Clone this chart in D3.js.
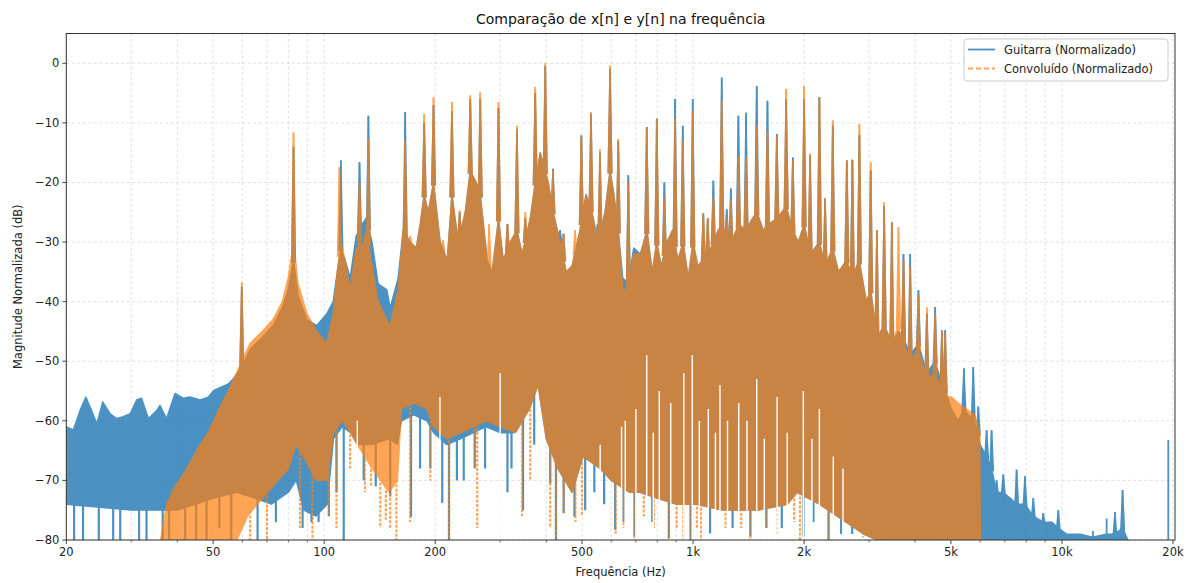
<!DOCTYPE html>
<html>
<head>
<meta charset="utf-8">
<script src="https://cdn.jsdelivr.net/npm/d3@7/dist/d3.min.js"></script>
<style>
  body { margin: 0; background: #fff; }
  svg { font-family: "DejaVu Sans", sans-serif; }
</style>
</head>
<body>
<svg id="chart" width="1189" height="583"></svg>
<script>
// --- data: [frequency Hz, dB] ---

// Guitarra: top and bottom of the dense band
const guitarUpper = [
  [20,-61],[20.9,-61.5],[21.8,-58.2],[22.6,-56],[23.4,-58.2],[24.2,-60.5],[25.1,-56.8],[26.3,-58.8],
  [27.4,-59.6],[28.5,-59.3],[29.8,-58.8],[31,-56.5],[32,-56.2],[33.4,-59.6],[35.2,-58.2],[35.9,-57.4],
  [37.4,-59.6],[39.4,-55.4],[41.5,-56.2],[43.3,-56],[46.1,-56.5],[48.5,-56],[50.2,-54.9],[52.8,-54.3],
  [55,-53.8],[56.8,-52.9],[59.8,-51],[63,-48],[67.9,-46],[72.7,-44],[77,-41],[79.9,-38],[82.6,-33],
  [85,-39],[89.8,-43],[95.5,-44],[101.7,-42],[105.8,-40],[108.5,-35],[111,-31],[114,-33],[117.6,-36],
  [122.1,-29],[126.8,-27],[130,-26],[134.9,-30],[140.1,-37],[147.9,-38],[151,-41],[158.7,-36],
  [163.7,-28],[171.1,-30],[177.6,-31],[182.1,-27],[186.7,-22],[191.4,-25],[197.9,-20],[206.3,-30],
  [215.6,-33],[222,-22],[230.9,-30],[241.2,-25],[248.9,-18],[258.3,-20],[264.9,-22],[276.7,-33],
  [285.4,-35],[296.9,-26],[305.8,-33],[319.5,-30],[333.1,-28],[344.2,-32],[362,-26],[373.4,-20],
  [385.3,-15],[405,-20],[417.5,-25],[436.5,-30],[453.2,-35],[469.8,-34],[493.8,-28],[512.6,-22],
  [532.2,-25],[552.5,-30],[577.2,-25],[595.6,-18],[610,-22],[627,-28],[645,-36],[667,-37],[690,-31],
  [720,-32],[750,-28],[775,-35],[797,-30],[820,-34],[850,-30],[880,-28],[910,-33],[940,-30],[970,-36],
  [1000,-30],[1030,-34],[1066,-33],[1100,-32],[1135,-30],[1170,-28],[1200,-27],[1250,-30],[1290,-29],
  [1330,-27],[1390,-28],[1450,-26],[1490,-25],[1550,-28],[1600,-27],[1690,-26],[1790,-24],[1860,-28],
  [1930,-30],[2000,-27],[2080,-32],[2200,-30],[2280,-34],[2390,-31],[2480,-35],[2610,-33],[2700,-36],
  [2820,-33],[2950,-40],[3030,-38],[3150,-46],[3300,-44],[3460,-47],[3600,-45],[3720,-46],[3880,-49],
  [4080,-47],[4300,-52],[4530,-50],[4730,-54],[4830,-55],[5020,-58],[5230,-60],[5420,-58],[5750,-60],
  [5930,-62],[6000,-64],[6250,-66],[6450,-68],[6650,-72],[6930,-72],[7250,-73],[7540,-74],[7940,-74],
  [8360,-76],[8900,-77],[9400,-77],[9770,-78],[10300,-79],[11200,-79],[12100,-79.5],[13200,-79],
  [13900,-79],[14600,-78],[15100,-80]
];
const guitarLower = [
  [20,-74],[30,-75],[40,-75],[50,-73],[58,-72],[65,-73],[72,-74],[80,-72],[84,-70],[88,-75],[95,-76],
  [102,-74],[106,-63],[112,-61],[118,-62],[123,-64],[135,-64],[150,-63],[158,-64],[162,-60],[175,-59],
  [190,-60],[198,-62],[215,-64],[235,-63],[254,-62],[275,-61],[300,-62],[330,-62],[360,-58],[380,-54],
  [400,-63],[430,-68],[470,-72],[503,-66],[560,-68],[600,-70],[672,-72],[718,-72],[800,-73],[900,-74],
  [1025,-74],[1200,-75],[1500,-75],[1800,-74],[1915,-72],[2200,-74],[2600,-77],[2900,-79],[3150,-80],
  [15100,-80]
];
const guitarPeaks = [
  [59.8,-37.5],[82.6,-14],[111,-16.3],[124.7,-16.6],[131.8,-8.8],[165.8,-8.2],[186.7,-10],[197.9,-7],
  [222,-8],[233,-25],[248.9,-6],[264.9,-6],[296.9,-7.5],[314,-27],[333.1,-11],[351,-26],[373.4,-5],
  [397.5,-0.5],[417.1,-17.7],[436,-28],[445.6,-28.6],[498,-12.1],[528.9,-8.5],[551,-27],[559.4,-15],
  [595.6,-1],[627,-13],[667.6,-18.8],[749,-10.7],[797.5,-9.3],[836,-20],[893.9,-6],[937.7,-10.5],
  [998,-6],[1066,-25.2],[1096,-26],[1135,-19.7],[1196,-2.4],[1234,-24.5],[1266,-21],[1327,-8.8],
  [1392,-8.3],[1488,-3.8],[1591,-6.3],[1687,-11.9],[1788,-6],[1864,-15.8],[2000,-6],[2076,-15.5],
  [2200,-5.7],[2280,-22.7],[2392,-10.5],[2611,-16.3],[2703,-16.2],[2824,-12],[3031,-18],[3150,-28],
  [3296,-24],[3458,-26.7],[3719,-32],[3877,-32],[4083,-38.1],[4303,-42],[4532,-40.9],[4726,-44.8],
  [4824,-44.8],[5422,-51.2],[5747,-51],[5930,-57.6],[6248,-61.6],[6445,-61.6],[6649,-70],[6932,-69],
  [7536,-68.2],[7939,-69.3],[8360,-73],[8898,-75.5],[9772,-75],[12134,-78.5],[13215,-76.4],
  [13921,-75.3],[14601,-71.6],[19420,-63.2]
];
const guitarDips = [
  [21,-80],[22.2,-80],[24.5,-80],[26.8,-80],[28,-80],[31.5,-80],[33,-80],[36.5,-80],[38,-80],[42,-80],
  [45,-80],[48,-80],[52,-78],[56,-80],[66,-80],[74,-77],[87.4,-78],[92.4,-77],[96.6,-77],[103,-76],
  [108,-72],[113,-80],[128,-70],[138,-71],[151,-72.7],[172,-76.1],[182,-68],[194,-68],[209,-73.8],
  [218,-80],[229,-70],[239,-70],[256,-68],[273,-68],[314,-72],[322,-68],[346,-75],[371,-64],[410,-70.5],
  [425,-80],[446,-75.5],[477,-76.1],[510,-75],[540,-72],[574,-74],[615,-78.3],[648,-77],[694,-79.4],
  [775,-77],[860,-79.7],[985,-80],[1112,-78.9],[1280,-78],[1430,-79.4],[1580,-78],[1740,-78],
  [1990,-79.4],[2120,-77],[2330,-80],[2520,-79],[2700,-79]
];

// Convoluído: top and bottom of the dense band
const convUpper = [
  [36,-80],[37.4,-74],[39.4,-71],[41.5,-69],[43.3,-67],[46.1,-64],[48.5,-62],[50.2,-60],[52.8,-57],
  [55,-55],[56.8,-53],[59.8,-50],[63,-47],[67.9,-45],[72.7,-43],[77,-40],[79.9,-36],[82.6,-30],[85,-37],
  [89.8,-42],[95.5,-45],[101.7,-47],[105.8,-42],[108.5,-35],[111,-30],[114,-33],[117.6,-38],[122.1,-31],
  [126.8,-31],[130,-28],[134.9,-34],[140.1,-40],[147.9,-43],[151,-44],[158.7,-38],[163.7,-28],
  [171.1,-30],[177.6,-31],[182.1,-27],[186.7,-22],[191.4,-25],[197.9,-20],[206.3,-30],[215.6,-33],
  [222,-22],[230.9,-30],[241.2,-25],[248.9,-18],[258.3,-20],[264.9,-22],[276.7,-33],[285.4,-35],
  [296.9,-26],[305.8,-33],[319.5,-30],[333.1,-28],[344.2,-32],[362,-26],[373.4,-20],[385.3,-15],
  [405,-20],[417.5,-25],[436.5,-30],[453.2,-35],[469.8,-34],[493.8,-28],[512.6,-22],[532.2,-25],
  [552.5,-30],[577.2,-25],[595.6,-18],[610,-22],[627,-28],[645,-38],[667,-38],[690,-32],[720,-32],
  [750,-28],[775,-35],[797,-30],[820,-34],[850,-30],[880,-28],[910,-33],[940,-30],[970,-36],[1000,-30],
  [1030,-34],[1066,-33],[1100,-32],[1135,-30],[1170,-28],[1200,-27],[1250,-30],[1290,-29],[1330,-27],
  [1390,-28],[1450,-26],[1490,-25],[1550,-28],[1600,-27],[1690,-26],[1790,-24],[1860,-28],[1930,-30],
  [2000,-27],[2080,-32],[2200,-30],[2280,-34],[2390,-31],[2480,-35],[2610,-33],[2700,-36],[2820,-33],
  [2950,-40],[3030,-38],[3150,-46],[3300,-44],[3460,-47],[3600,-44],[3720,-47],[3880,-50],[4080,-48],
  [4300,-53],[4530,-52],[4730,-55],[4830,-56],[5020,-56],[5230,-57],[5500,-58],[5800,-59],[5990,-62],
  [6010,-80]
];
const convLower = [
  [36,-80],[58,-80],[62,-76],[68,-73],[75,-70],[80,-68],[84,-64],[88,-66],[95,-70],[102,-70],[106,-62],
  [112,-60],[118,-62],[123,-64],[135,-68],[150,-72],[158,-70],[162,-58],[175,-57],[190,-58],[198,-61],
  [215,-63],[235,-62],[254,-61],[275,-60],[300,-61],[330,-62],[360,-58],[380,-54],[400,-63],[430,-68],
  [470,-72],[503,-66],[560,-68],[600,-70],[672,-72],[718,-72],[800,-73],[900,-74],[1025,-74],[1200,-75],
  [1500,-75],[1800,-74],[1915,-72],[2200,-74],[2600,-77],[2900,-79],[3150,-80],[6010,-80]
];
const convPeaks = [
  [59.8,-36.8],[82.6,-11.6],[110,-17.4],[124.7,-20],[131.8,-12.7],[165.8,-13],[171,-29],[186.7,-8.5],
  [197.9,-5.7],[210,-29.7],[222,-6.5],[233,-24.7],[248.9,-5.4],[264.9,-4.9],[280,-27],[296.9,-6.5],
  [314,-27],[333.1,-10.5],[351,-25],[373.4,-4],[397.5,0],[417.1,-18],[436,-29.7],[445.6,-28.6],
  [479,-28],[498,-12.4],[528.9,-8.2],[551,-28],[559.4,-14.4],[595.6,-0.4],[627,-12.7],[667.6,-20],
  [749,-11],[797.5,-9.5],[836,-22.7],[893.9,-9.3],[937.7,-13],[998,-8],[1066,-25.2],[1096,-26],
  [1135,-22.5],[1196,-6.3],[1234,-26],[1266,-23],[1327,-15.8],[1392,-15.8],[1488,-10.5],[1591,-11.5],
  [1687,-12.2],[1788,-4.3],[1864,-16.3],[2000,-3.8],[2076,-15.2],[2200,-5.7],[2280,-22.7],[2392,-9.6],
  [2611,-16.3],[2703,-16.2],[2824,-10.2],[3031,-16.6],[3150,-28],[3296,-23.3],[3458,-26.7],
  [3604,-27.5],[3719,-33],[3877,-34],[4083,-39],[4303,-41],[4532,-42],[4726,-45],[4824,-45.5],
  [5022,-57.7]
];
const convDips = [
  [63,-80],[70,-80],[86,-78],[93,-80],[103,-76],[108,-78],[117.6,-68],[129,-72],[134,-71],[142,-78],
  [147,-76.6],[151,-78],[157,-80],[171,-77],[194,-70],[218,-80],[256,-68],[260,-78],[344,-76],
  [362,-70],[410,-78],[425,-80],[446,-75.5],[480,-77],[500,-76],[617,-78.9],[648,-78],[694,-80],
  [735,-76],[783,-78],[860,-80],[903,-78],[941,-80],[985,-80],[1024,-78],[1050,-80],[1225,-78],
  [1350,-78],[1430,-80],[1580,-78],[1690,-79],[1880,-77],[1950,-80],[2330,-80],[2890,-79.6]
];

// frequencies where both spectra drop out: [frequency Hz, top of the gap dB]
const bandGaps = [
  [123,-60],[206,-56],[300,-52],[330,-62],[560,-64],[640,-61],[655,-60],[700,-58],[749,-49],[780,-62],
  [810,-55],[870,-57],[944,-52],[995,-49],[1040,-60],[1100,-58],[1150,-62],[1183,-54],[1240,-60],
  [1330,-57],[1400,-60],[1488,-53],[1560,-63],[1690,-56],[1800,-62],[1990,-55],[2100,-63],[2200,-58],
  [2400,-66],[2550,-68]
];

// axis ticks
const xTickValues = [20, 50, 100, 200, 500, 1000, 2000, 5000, 10000, 20000];
const xTickLabels = ['20', '50', '100', '200', '500', '1k', '2k', '5k', '10k', '20k'];
const yTickValues = [0, -10, -20, -30, -40, -50, -60, -70, -80];

const seriesNames = ['Guitarra (Normalizado)', 'Convoluído (Normalizado)'];

// --- drawing ---
const svg = d3.select('#chart');
const plotLeft = 66.3, plotRight = 1175, plotTop = 33.5, plotBottom = 540;

const x = d3.scaleLog().domain([20, 20250]).range([plotLeft, plotRight]);
const y = d3.scaleLinear().domain([-80, 5]).range([plotBottom, plotTop]);

svg.append('defs').append('clipPath').attr('id', 'plot')
	.append('rect').attr('x', plotLeft).attr('y', plotTop)
	.attr('width', plotRight - plotLeft).attr('height', plotBottom - plotTop);

// grid, major and minor decades
const gridX = [];
for (let e = 1; e <= 4; e++) {
	for (let m = 1; m <= 9; m++) {
		const v = m * Math.pow(10, e);
		if (v >= 20 && v <= 20000) gridX.push(v);
	}
}
const grid = svg.append('g').attr('stroke', '#d9d9d9').attr('stroke-width', 0.8)
	.attr('stroke-dasharray', '3,2.5');
grid.selectAll('line.gx').data(gridX).enter().append('line')
	.attr('x1', d => x(d)).attr('x2', d => x(d)).attr('y1', plotTop).attr('y2', plotBottom);
grid.selectAll('line.gy').data(yTickValues).enter().append('line')
	.attr('x1', plotLeft).attr('x2', plotRight).attr('y1', d => y(d)).attr('y2', d => y(d));

// value of a band edge at frequency f (used to anchor the spikes)
function edgeAt(arr, f) {
	if (f <= arr[0][0] || f >= arr[arr.length - 1][0]) return -80;
	for (let i = 0; i < arr.length - 1; i++) {
		const a = arr[i], b = arr[i + 1];
		if (f >= a[0] && f <= b[0]) {
			const t = (Math.log(f) - Math.log(a[0])) / (Math.log(b[0]) - Math.log(a[0]));
			return a[1] + t * (b[1] - a[1]);
		}
	}
	return -80;
}

const bandLine = d3.line().x(d => x(d[0])).y(d => y(d[1]));

function drawSeries(upper, lower, peaks, dips, color, opacity, dash) {
	const g = svg.append('g').attr('clip-path', 'url(#plot)').attr('opacity', opacity);

	const outline = upper.concat(lower.slice().reverse());
	g.append('path')
		.attr('d', bandLine(outline) + 'Z')
		.attr('fill', color)
		.attr('stroke', color)
		.attr('stroke-width', 1.3)
		.attr('stroke-linejoin', 'round');

	// spikes: narrow skirt plus the tip line
	g.selectAll('path.peak').data(peaks.filter(d => edgeAt(upper, d[0]) > -79)).enter().append('path')
		.attr('d', d => {
			const px = x(d[0]), yb = y(edgeAt(upper, d[0])) + 3, yt = y(d[1]);
			return `M${px - 2.6},${yb}L${px - 0.7},${yt}L${px + 0.7},${yt}L${px + 2.6},${yb}Z`;
		})
		.attr('fill', color);
	g.selectAll('line.peak').data(peaks).enter().append('line')
		.attr('x1', d => x(d[0])).attr('x2', d => x(d[0]))
		.attr('y1', d => y(edgeAt(upper, d[0])) + 2)
		.attr('y2', d => y(d[1]))
		.attr('stroke', color).attr('stroke-width', 1.8);

	g.selectAll('line.dip').data(dips.filter(d => d[1] < edgeAt(lower, d[0]))).enter().append('line')
		.attr('x1', d => x(d[0])).attr('x2', d => x(d[0]))
		.attr('y1', d => y(edgeAt(lower, d[0])) - 2)
		.attr('y2', d => y(d[1]))
		.attr('stroke', color).attr('stroke-width', 2.2)
		.attr('stroke-dasharray', dash);
}

drawSeries(guitarUpper, guitarLower, guitarPeaks, guitarDips, '#1f77b4', 0.8, null);
drawSeries(convUpper, convLower, convPeaks, convDips, '#ff7f0e', 0.7, '3,1.5');

// gaps where both signals fall away
svg.append('g').attr('clip-path', 'url(#plot)').selectAll('line').data(bandGaps).enter().append('line')
	.attr('x1', d => x(d[0])).attr('x2', d => x(d[0]))
	.attr('y1', y(-80)).attr('y2', d => y(d[1]))
	.attr('stroke', '#fff').attr('stroke-width', 1.4);

// frame
svg.append('rect').attr('x', plotLeft).attr('y', plotTop)
	.attr('width', plotRight - plotLeft).attr('height', plotBottom - plotTop)
	.attr('fill', 'none').attr('stroke', '#333').attr('stroke-width', 1);

// x axis ticks
const minorX = gridX.filter(v => !xTickValues.includes(v));
svg.append('g').selectAll('line').data(minorX).enter().append('line')
	.attr('x1', d => x(d)).attr('x2', d => x(d)).attr('y1', plotBottom).attr('y2', plotBottom + 2.5)
	.attr('stroke', '#333').attr('stroke-width', 0.7);
svg.append('g').selectAll('line').data(xTickValues).enter().append('line')
	.attr('x1', d => x(d)).attr('x2', d => x(d)).attr('y1', plotBottom).attr('y2', plotBottom + 4)
	.attr('stroke', '#333').attr('stroke-width', 0.9);
svg.append('g').selectAll('text').data(xTickValues).enter().append('text')
	.attr('x', d => x(d)).attr('y', plotBottom + 16)
	.attr('text-anchor', 'middle').attr('font-size', 11.5).attr('fill', '#222')
	.text((d, i) => xTickLabels[i]);

// y axis ticks
svg.append('g').selectAll('line').data(yTickValues).enter().append('line')
	.attr('x1', plotLeft - 4).attr('x2', plotLeft).attr('y1', d => y(d)).attr('y2', d => y(d))
	.attr('stroke', '#333').attr('stroke-width', 0.9);
svg.append('g').selectAll('text').data(yTickValues).enter().append('text')
	.attr('x', plotLeft - 7).attr('y', d => y(d) + 4)
	.attr('text-anchor', 'end').attr('font-size', 11.5).attr('fill', '#222')
	.text(d => d < 0 ? '\u2212' + Math.abs(d) : String(d));

// titles
svg.append('text').attr('x', (plotLeft + plotRight) / 2).attr('y', 24)
	.attr('text-anchor', 'middle').attr('font-size', 14).attr('fill', '#111')
	.text('Comparação de x[n] e y[n] na frequência');
svg.append('text').attr('x', (plotLeft + plotRight) / 2).attr('y', 576)
	.attr('text-anchor', 'middle').attr('font-size', 11.5).attr('fill', '#222')
	.text('Frequência (Hz)');
svg.append('text').attr('transform', `translate(22,${(plotTop + plotBottom) / 2}) rotate(-90)`)
	.attr('text-anchor', 'middle').attr('font-size', 11.5).attr('fill', '#222')
	.text('Magnitude Normalizada (dB)');

// legend
const legend = svg.append('g').attr('transform', 'translate(964,39)');
legend.append('rect').attr('width', 204).attr('height', 42).attr('rx', 3)
	.attr('fill', '#fff').attr('fill-opacity', 0.85).attr('stroke', '#ccc');
const legendColors = ['#1f77b4', '#ff7f0e'];
const legendOpacity = [0.8, 0.7];
seriesNames.forEach((name, i) => {
	const yy = 10.5 + i * 19;
	legend.append('line').attr('x1', 4).attr('x2', 31).attr('y1', yy).attr('y2', yy)
		.attr('stroke', legendColors[i]).attr('stroke-opacity', legendOpacity[i])
		.attr('stroke-width', 1.8)
		.attr('stroke-dasharray', i === 1 ? '5,3' : null);
	legend.append('text').attr('x', 40).attr('y', yy + 4)
		.attr('font-size', 11.5).attr('fill', '#222').text(name);
});
</script>
</body>
</html>
